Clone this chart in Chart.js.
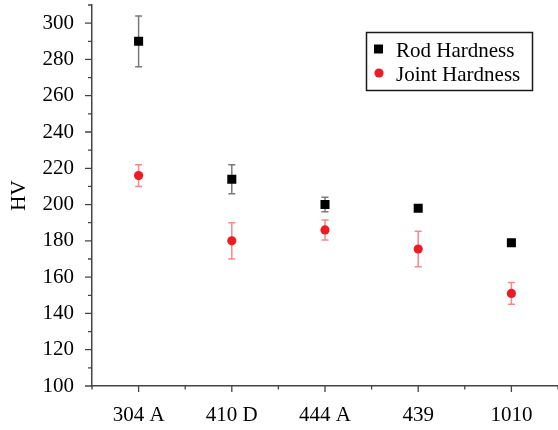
<!DOCTYPE html>
<html>
<head>
<meta charset="utf-8">
<script src="https://cdn.jsdelivr.net/npm/chart.js@4/dist/chart.umd.min.js"></script>
<style>
  body { margin: 0; background: #fff; }
  canvas { display: block; }
</style>
</head>
<body>
<canvas id="chart" width="558" height="430"></canvas>
<script>
const categories = ['304 A', '410 D', '444 A', '439', '1010'];
const rodHardness = [290, 214, 200, 198, 179];
const rodError = [14, 8, 4, 1, 0.5];
const jointHardness = [216, 180, 186, 175.5, 151];
const jointError = [6, 10, 5.5, 9.8, 6];
const yTicks = [100, 120, 140, 160, 180, 200, 220, 240, 260, 280, 300];

const serif = '"Liberation Serif", "Times New Roman", serif';
const axisColor = '#454545';

// error bars drawn under the markers
const errorBars = {
    id: 'errorBars',
    beforeDatasetsDraw(chart) {
        const ctx = chart.ctx;
        const y = chart.scales.y;
        ctx.save();
        ctx.lineWidth = 1.5;
        chart.data.datasets.forEach((ds, di) => {
            const meta = chart.getDatasetMeta(di);
            ctx.strokeStyle = ds.errorColor;
            meta.data.forEach((pt, i) => {
                const v = ds.data[i], e = ds.errors[i];
                const top = y.getPixelForValue(v + e), bot = y.getPixelForValue(v - e);
                ctx.beginPath();
                ctx.moveTo(pt.x, top); ctx.lineTo(pt.x, bot);
                ctx.moveTo(pt.x - 3.5, top); ctx.lineTo(pt.x + 3.5, top);
                ctx.moveTo(pt.x - 3.5, bot); ctx.lineTo(pt.x + 3.5, bot);
                ctx.stroke();
            });
        });
        ctx.restore();
    }
};

// outward major/minor tick marks and the boxed legend
const decorations = {
    id: 'decorations',
    afterDraw(chart) {
        const ctx = chart.ctx;
        const {x, y} = chart.scales;
        const area = chart.chartArea;
        ctx.save();
        ctx.strokeStyle = axisColor;
        ctx.lineWidth = 1.3;
        ctx.beginPath();
        for (let v = y.min; v <= y.max; v += 10) {
            const py = y.getPixelForValue(v);
            const len = v % 20 === 0 ? 7 : 4;
            ctx.moveTo(area.left - len, py); ctx.lineTo(area.left, py);
        }
        for (let i = -0.5; i <= categories.length - 0.5; i += 0.5) {
            const px = x.getPixelForValue(i);
            const len = Number.isInteger(i) ? 6 : 3.5;
            ctx.moveTo(px, area.bottom); ctx.lineTo(px, area.bottom + len);
        }
        ctx.stroke();

        // legend
        ctx.strokeStyle = '#1a1a1a';
        ctx.lineWidth = 1.5;
        ctx.strokeRect(366.5, 32.5, 166, 58);
        ctx.font = '21px ' + serif;
        ctx.textBaseline = 'alphabetic';
        chart.data.datasets.forEach((ds, di) => {
            const cy = 49 + di * 24;
            ctx.fillStyle = ds.backgroundColor;
            if (ds.pointStyle === 'rect') {
                ctx.fillRect(374, cy - 4.5, 9, 9);
            } else {
                ctx.beginPath();
                ctx.arc(379, cy, 4.6, 0, Math.PI * 2);
                ctx.fill();
            }
            ctx.fillStyle = '#000';
            ctx.fillText(ds.label, 396, cy + 7.5);
        });
        ctx.restore();
    }
};

new Chart(document.getElementById('chart'), {
    type: 'line',
    data: {
        labels: categories,
        datasets: [{
            label: 'Rod Hardness',
            data: rodHardness,
            errors: rodError,
            errorColor: '#7a7a7a',
            showLine: false,
            pointStyle: 'rect',
            pointRadius: 6.4,
            pointHoverRadius: 6.4,
            backgroundColor: '#000',
            borderColor: '#000',
            borderWidth: 0
        }, {
            label: 'Joint Hardness',
            data: jointHardness,
            errors: jointError,
            errorColor: '#f4898d',
            showLine: false,
            pointStyle: 'circle',
            pointRadius: 4.6,
            pointHoverRadius: 4.6,
            backgroundColor: '#ec1c24',
            borderColor: '#ec1c24',
            borderWidth: 0
        }]
    },
    options: {
        responsive: false,
        animation: false,
        devicePixelRatio: 1,
        layout: {autoPadding: false, padding: {top: 5, right: 0, bottom: 0, left: 0}},
        plugins: {
            legend: {display: false},
            tooltip: {enabled: false}
        },
        scales: {
            x: {
                type: 'category',
                offset: true,
                grid: {display: true, drawOnChartArea: false, drawTicks: false},
                border: {display: true, color: axisColor, width: 1.5},
                ticks: {
                    color: '#000',
                    font: {family: serif, size: 21},
                    padding: 17,
                    maxRotation: 0,
                    autoSkip: false
                },
                afterFit(s) {
                    s.height = 44;
                    s.paddingLeft = 0;
                    s.paddingRight = 0;
                }
            },
            y: {
                min: 100,
                max: 310,
                grid: {display: true, drawOnChartArea: false, drawTicks: false},
                border: {display: true, color: axisColor, width: 1.5},
                ticks: {
                    color: '#000',
                    font: {family: serif, size: 21},
                    padding: 18
                },
                afterBuildTicks(s) {
                    s.ticks = yTicks.map(v => ({value: v}));
                },
                title: {
                    display: true,
                    text: 'HV',
                    color: '#000',
                    font: {family: serif, size: 21},
                    padding: {top: 7, bottom: 0}
                },
                afterFit(s) {
                    s.width = 92;
                    s.paddingTop = 0;
                    s.paddingBottom = 0;
                }
            }
        }
    },
    plugins: [errorBars, decorations]
});
</script>
</body>
</html>
